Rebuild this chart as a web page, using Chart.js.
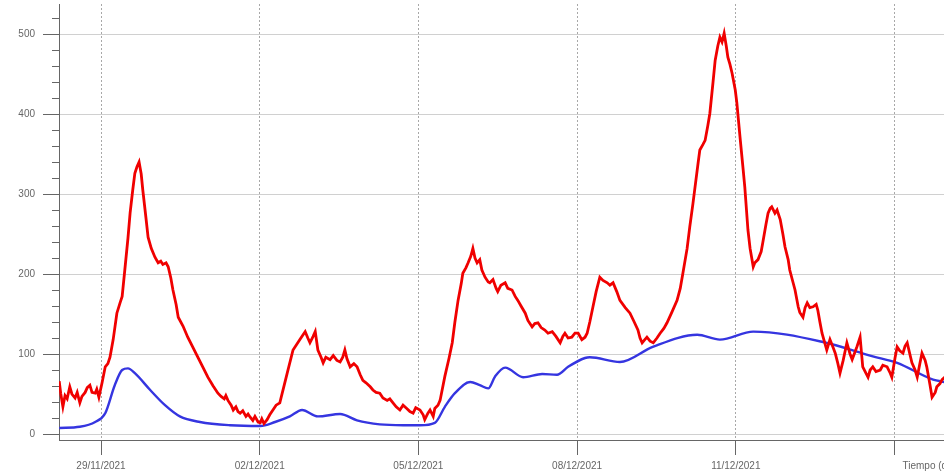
<!DOCTYPE html>
<html>
<head>
<meta charset="utf-8">
<title>Evolución</title>
<script src="https://cdn.jsdelivr.net/npm/chart.js@4/dist/chart.umd.min.js"></script>
<style>
  html, body { margin: 0; padding: 0; background: #ffffff; }
  #wrap { width: 944px; height: 476px; }
</style>
</head>
<body>
<div id="wrap"><canvas id="chart" width="944" height="476"></canvas></div>
<script>
// Time in days from 29/11/2021 00:00
const tickDays = [0, 3, 6, 9, 12, 15];
const tickLabels = ["29/11/2021", "02/12/2021", "05/12/2021", "08/12/2021", "11/12/2021", ""];
const axisTitle = "Tiempo (días)";

const yMajor = [0, 100, 200, 300, 400, 500];
const yMinor = [20, 40, 60, 80, 120, 140, 160, 180, 220, 240, 260, 280, 320, 340, 360, 380, 420, 440, 460, 480, 520];

// Instantaneous series (red)
const redDays = [
  -0.79, -0.76, -0.72, -0.68, -0.64, -0.59, -0.55, -0.49, -0.45, -0.40, -0.36, -0.30, -0.26, -0.21, -0.17, -0.11,
  -0.08, -0.04, 0.02, 0.08, 0.13, 0.17, 0.23, 0.30, 0.36, 0.40, 0.45, 0.51, 0.55, 0.60, 0.64, 0.68,
  0.72, 0.76, 0.79, 0.85, 0.89, 0.95, 1.02, 1.08, 1.13, 1.17, 1.23, 1.27, 1.32, 1.36, 1.42, 1.46,
  1.55, 1.64, 1.74, 1.83, 1.93, 2.02, 2.12, 2.21, 2.27, 2.33, 2.36, 2.40, 2.46, 2.50, 2.55, 2.59,
  2.63, 2.68, 2.74, 2.78, 2.82, 2.87, 2.91, 2.97, 3.01, 3.04, 3.08, 3.14, 3.19, 3.25, 3.31, 3.38,
  3.52, 3.63, 3.76, 3.82, 3.86, 3.91, 3.95, 4.01, 4.05, 4.10, 4.16, 4.20, 4.25, 4.33, 4.39, 4.46,
  4.52, 4.57, 4.61, 4.65, 4.71, 4.78, 4.84, 4.90, 4.95, 5.01, 5.09, 5.14, 5.20, 5.27, 5.33, 5.41,
  5.46, 5.52, 5.58, 5.65, 5.71, 5.78, 5.84, 5.90, 5.95, 6.03, 6.09, 6.12, 6.18, 6.22, 6.28, 6.31,
  6.37, 6.41, 6.50, 6.58, 6.64, 6.69, 6.75, 6.81, 6.84, 6.90, 6.94, 6.99, 7.03, 7.07, 7.11, 7.16,
  7.20, 7.26, 7.32, 7.35, 7.41, 7.47, 7.50, 7.56, 7.64, 7.69, 7.77, 7.83, 7.88, 7.94, 8.02, 8.07,
  8.15, 8.20, 8.26, 8.32, 8.39, 8.45, 8.53, 8.60, 8.68, 8.73, 8.77, 8.83, 8.90, 8.96, 9.02, 9.09,
  9.15, 9.19, 9.24, 9.30, 9.36, 9.43, 9.49, 9.57, 9.62, 9.68, 9.75, 9.81, 9.91, 10.00, 10.08, 10.15,
  10.19, 10.23, 10.28, 10.32, 10.38, 10.44, 10.51, 10.57, 10.64, 10.70, 10.79, 10.89, 10.95, 11.00, 11.08, 11.13,
  11.19, 11.23, 11.29, 11.32, 11.38, 11.42, 11.47, 11.51, 11.57, 11.61, 11.66, 11.70, 11.74, 11.78, 11.82, 11.85,
  11.89, 11.93, 11.99, 12.02, 12.08, 12.14, 12.17, 12.23, 12.27, 12.33, 12.36, 12.42, 12.48, 12.51, 12.57, 12.61,
  12.65, 12.68, 12.74, 12.78, 12.84, 12.89, 12.93, 12.99, 13.02, 13.08, 13.12, 13.18, 13.21, 13.27, 13.31, 13.35,
  13.40, 13.46, 13.52, 13.55, 13.59, 13.63, 13.69, 13.72, 13.78, 13.84, 13.88, 13.93, 13.97, 14.03, 14.10, 14.16,
  14.20, 14.25, 14.29, 14.35, 14.40, 14.46, 14.50, 14.54, 14.59, 14.65, 14.73, 14.78, 14.86, 14.92, 14.95, 15.01,
  15.05, 15.10, 15.16, 15.20, 15.24, 15.29, 15.33, 15.39, 15.43, 15.48, 15.52, 15.58, 15.61, 15.67, 15.71, 15.77,
  15.80, 15.86, 15.90, 15.97
];
const redValues = [
  66, 50, 34, 48, 44, 59, 50, 45, 52, 39, 47, 52, 58, 61, 52, 51,
  56, 46, 64, 84, 88, 96, 118, 151, 164, 172, 205, 245, 276, 305, 326, 334,
  340, 325, 305, 270, 246, 232, 221, 214, 216, 212, 214, 209, 195, 180, 162, 146,
  135, 121, 108, 96, 83, 71, 60, 51, 47, 44, 48, 42, 36, 30, 34, 28,
  26, 29, 22, 25, 21, 17, 22, 15, 14, 19, 13, 18, 24, 30, 36, 39,
  76, 105, 118, 124, 128, 120, 114, 122, 128, 105, 96, 89, 96, 93, 98, 92,
  90, 96, 105, 94, 84, 88, 84, 74, 67, 64, 59, 55, 52, 51, 45, 42,
  44, 39, 34, 30, 36, 32, 28, 26, 33, 30, 24, 18, 26, 30, 22, 32,
  36, 42, 72, 95, 114, 140, 167, 188, 201, 208, 214, 222, 232, 220, 214, 218,
  205, 196, 190, 189, 193, 182, 178, 186, 189, 182, 180, 172, 167, 160, 151, 142,
  134, 138, 139, 133, 130, 126, 128, 122, 114, 122, 126, 120, 121, 126, 126, 118,
  121, 126, 140, 159, 178, 196, 192, 189, 186, 189, 178, 167, 158, 151, 140, 130,
  120, 114, 118, 121, 116, 114, 120, 126, 132, 139, 152, 167, 182, 201, 232, 259,
  288, 309, 340, 355, 362, 367, 385, 401, 440, 467, 485, 496, 490, 501, 485, 471,
  462, 451, 430, 414, 371, 330, 309, 255, 232, 209, 214, 218, 228, 239, 262, 276,
  282, 284, 276, 280, 268, 250, 234, 218, 205, 190, 180, 159, 152, 146, 158, 164,
  158, 159, 162, 155, 140, 126, 112, 105, 118, 108, 101, 88, 76, 92, 114, 100,
  93, 102, 109, 121, 84, 76, 71, 80, 84, 78, 80, 86, 84, 76, 71, 95,
  109, 104, 101, 110, 114, 100, 89, 80, 71, 88, 101, 92, 84, 62, 46, 52,
  59, 63, 68, 72
];

// Smoothed series (blue)
const blueDays = [
  -0.79, -0.40, -0.11, 0.08, 0.26, 0.40, 0.51, 0.64, 0.93, 1.21, 1.49, 1.87, 2.44, 3.01, 3.29, 3.57,
  3.80, 4.10, 4.52, 4.84, 5.27, 5.71, 6.03, 6.31, 6.50, 6.69, 6.98, 7.16, 7.32, 7.45, 7.64, 7.98,
  8.34, 8.62, 8.83, 9.15, 9.24, 9.81, 10.43, 11.27, 11.70, 12.33, 13.65, 14.59, 15.05, 15.73, 15.94
];
const blueValues = [
  7.5, 9, 15, 26, 61, 80, 82, 76, 55, 36, 22, 15, 11, 10, 15, 22,
  30, 22, 25, 17, 12, 11, 11, 14, 34, 51, 65, 61, 57, 72, 83, 71,
  75, 74, 84, 95, 96, 90, 109, 124, 118, 128, 115, 97, 89, 68, 65
];

const toPoints = (xs, ys) => xs.map((x, i) => ({ x: x, y: ys[i] }));

const FONT = "'Liberation Sans', Arial, sans-serif";

// Short unlabeled ticks on the value axis and the time axis caption
const extras = {
  id: 'extras',
  afterDraw(chart) {
    const ctx = chart.ctx;
    const y = chart.scales.y;
    const left = chart.chartArea.left;
    ctx.save();
    ctx.strokeStyle = '#666';
    ctx.lineWidth = 1;
    yMinor.forEach(v => {
      const py = Math.round(y.getPixelForValue(v)) + 0.5;
      ctx.beginPath();
      ctx.moveTo(left - 7, py);
      ctx.lineTo(left, py);
      ctx.stroke();
    });
    const x = chart.scales.x;
    ctx.fillStyle = '#666';
    ctx.font = '10px ' + FONT;
    ctx.textAlign = 'left';
    ctx.textBaseline = 'middle';
    ctx.fillText(axisTitle, x.getPixelForValue(tickDays[tickDays.length - 1]) + 8, 466);
    ctx.restore();
  }
};

new Chart(document.getElementById('chart'), {
  type: 'line',
  data: {
    datasets: [
      {
        data: toPoints(redDays, redValues),
        borderColor: '#f00000',
        borderWidth: 2.8,
        pointRadius: 0,
        tension: 0,
        fill: false
      },
      {
        data: toPoints(blueDays, blueValues),
        borderColor: '#3535e0',
        borderWidth: 2.4,
        pointRadius: 0,
        cubicInterpolationMode: 'monotone',
        fill: false
      }
    ]
  },
  options: {
    responsive: false,
    animation: false,
    devicePixelRatio: 1,
    layout: { padding: { left: 0, right: 0, top: 4, bottom: 0 } },
    plugins: { legend: { display: false }, tooltip: { enabled: false } },
    scales: {
      x: {
        type: 'linear',
        min: -0.794,
        max: 15.936,
        afterBuildTicks: s => { s.ticks = tickDays.map(v => ({ value: v })); },
        afterFit: s => { s.height = 36; s.paddingLeft = 0; s.paddingRight = 0; },
        ticks: {
          autoSkip: false,
          maxRotation: 0,
          padding: 5,
          color: '#666',
          font: { family: FONT, size: 10 },
          callback: (v, i) => tickLabels[i]
        },
        grid: {
          color: '#a8a8a8',
          lineWidth: 1,
          tickLength: 15,
          tickColor: '#666'
        },
        border: { color: '#666', width: 1, dash: [2, 2] }
      },
      y: {
        type: 'linear',
        min: -7.5,
        max: 537.5,
        afterBuildTicks: s => { s.ticks = yMajor.map(v => ({ value: v })); },
        afterFit: s => { s.width = 59; s.paddingTop = 0; s.paddingBottom = 0; },
        ticks: {
          padding: 8,
          color: '#666',
          font: { family: FONT, size: 10 },
          callback: v => String(v)
        },
        grid: {
          color: '#d0d0d0',
          lineWidth: 1,
          tickLength: 16,
          tickColor: '#666'
        },
        border: { color: '#666', width: 1 }
      }
    }
  },
  plugins: [extras]
});
</script>
</body>
</html>
